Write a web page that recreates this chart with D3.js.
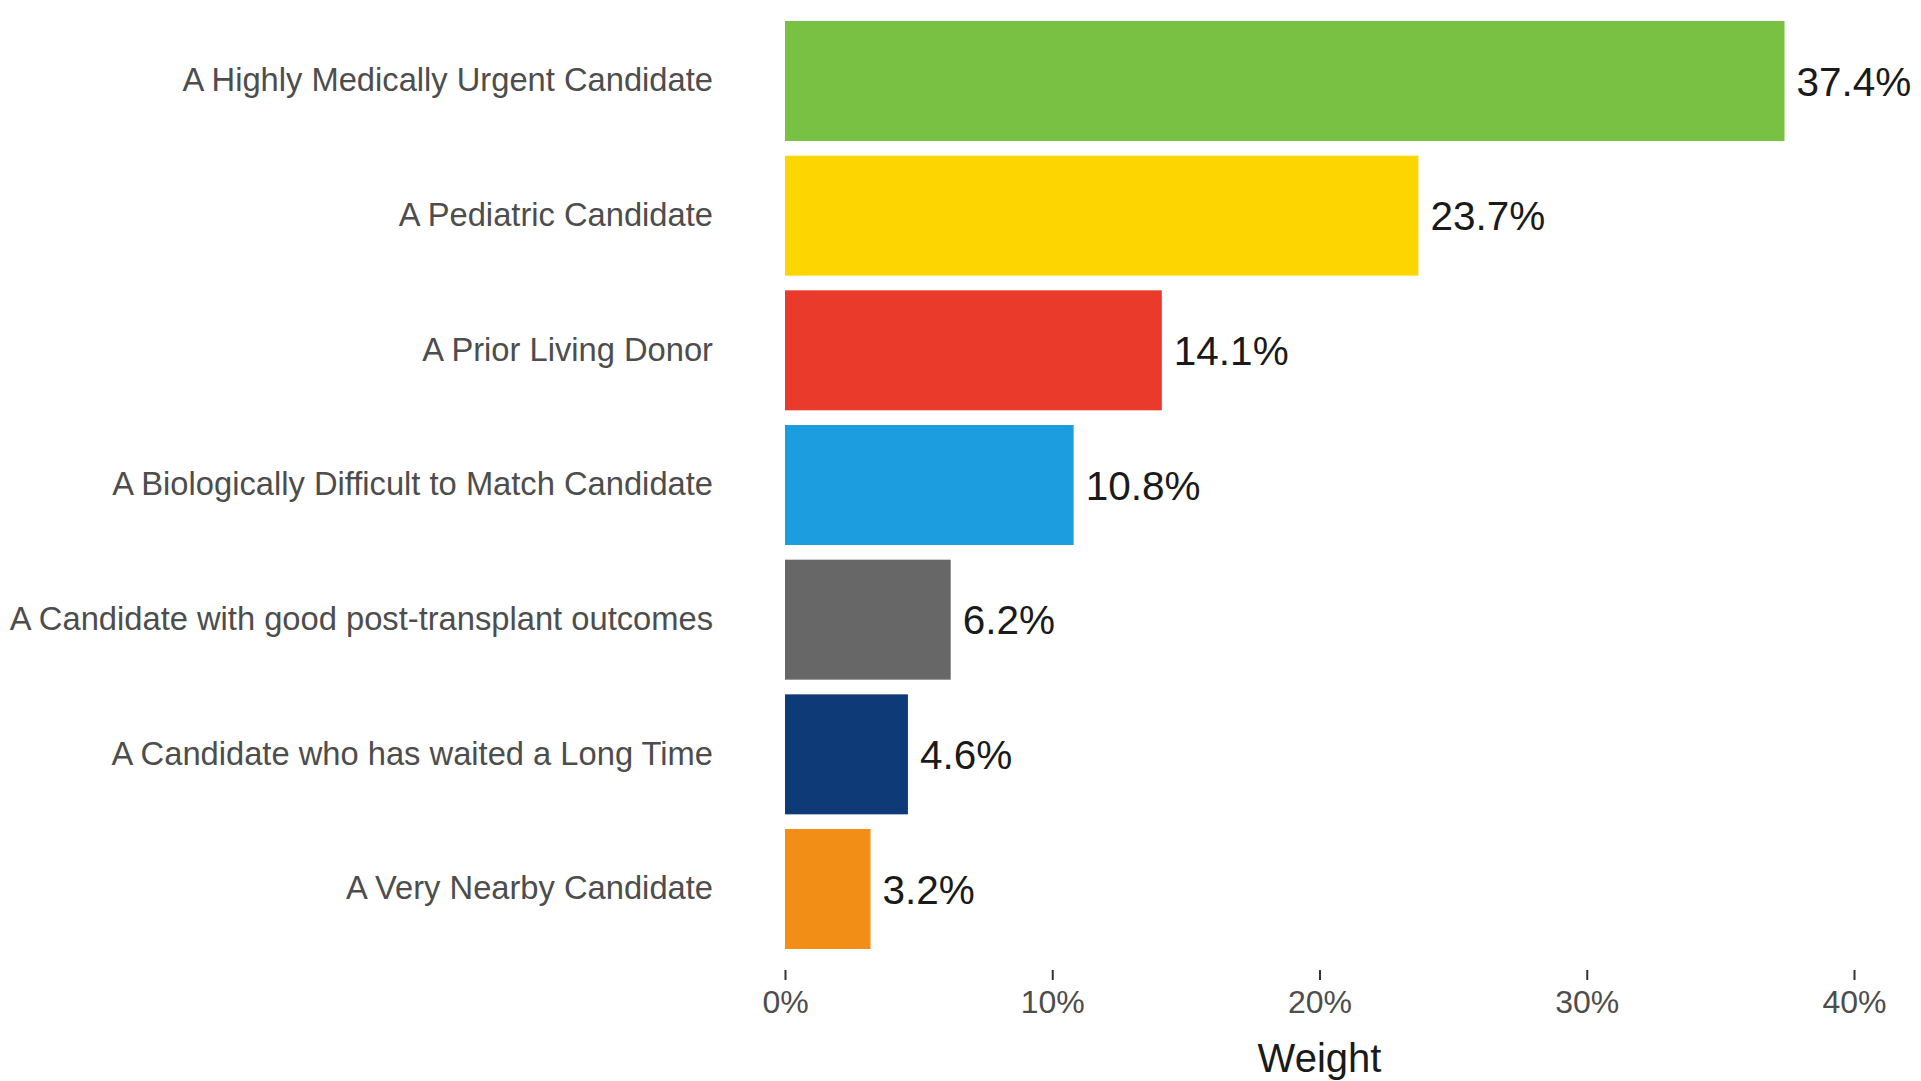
<!DOCTYPE html>
<html>
<head>
<meta charset="utf-8">
<script src="https://cdn.jsdelivr.net/npm/d3@7"></script>
<style>
  body { margin: 0; background: #fff; }
  svg { display: block; font-family: "Liberation Sans", Arial, sans-serif; }
</style>
</head>
<body>
<svg id="chart"></svg>
<script>
// data
const categories = [
    "A Highly Medically Urgent Candidate",
    "A Pediatric Candidate",
    "A Prior Living Donor",
    "A Biologically Difficult to Match Candidate",
    "A Candidate with good post-transplant outcomes",
    "A Candidate who has waited a Long Time",
    "A Very Nearby Candidate"
];
const weights = [37.4, 23.7, 14.1, 10.8, 6.2, 4.6, 3.2];
const barColors = ["#78c142", "#fdd500", "#e93a2b", "#1b9de0", "#676767", "#0e3b77", "#f28d16"];
const xTicks = [0, 10, 20, 30, 40];

const width = 1921;
const height = 1081;
const margin = {top: 21, bottom: 132, left: 785};

const svg = d3.select("#chart")
    .attr("width", width)
    .attr("height", height);

const x = d3.scaleLinear()
    .domain([0, 40])
    .range([margin.left, 1854]);

const y = d3.scaleBand()
    .domain(categories)
    .range([margin.top, height - margin.bottom])
    .paddingInner(0.109)
    .paddingOuter(0);

const rows = categories.map(function (c, i) {
    return {name: c, value: weights[i], color: barColors[i]};
});

// bars
svg.append("g")
    .selectAll("rect")
    .data(rows)
    .enter().append("rect")
    .attr("x", x(0))
    .attr("y", function (d) { return y(d.name); })
    .attr("width", function (d) { return x(d.value) - x(0); })
    .attr("height", y.bandwidth())
    .attr("fill", function (d) { return d.color; });

// value labels
svg.append("g")
    .selectAll("text")
    .data(rows)
    .enter().append("text")
    .attr("x", function (d) { return x(d.value) + 12; })
    .attr("y", function (d) { return y(d.name) + y.bandwidth() / 2; })
    .attr("dy", "0.36em")
    .attr("font-size", 40.5)
    .attr("fill", "#1a1a1a")
    .text(function (d) { return d.value.toFixed(1) + "%"; });

// category labels
const yAxis = svg.append("g")
    .attr("transform", `translate(${x(0) - 72},0)`)
    .call(d3.axisLeft(y).tickSize(0).tickPadding(0));
yAxis.select(".domain").remove();
yAxis.selectAll("text")
    .attr("font-size", 32.7)
    .attr("fill", "#4d4d4d");

// x axis
const xAxis = svg.append("g")
    .attr("transform", `translate(0,${height - 111})`)
    .call(d3.axisBottom(x)
        .tickValues(xTicks)
        .tickSize(10)
        .tickPadding(10)
        .tickFormat(function (d) { return d + "%"; }));
xAxis.select(".domain").remove();
xAxis.selectAll("line").attr("stroke", "#333").attr("stroke-width", 2);
xAxis.selectAll("text")
    .attr("font-size", 32)
    .attr("fill", "#4d4d4d");

svg.append("text")
    .attr("x", (x(0) + x(40)) / 2)
    .attr("y", 1072)
    .attr("text-anchor", "middle")
    .attr("font-size", 40)
    .attr("fill", "#1a1a1a")
    .text("Weight");
</script>
</body>
</html>
